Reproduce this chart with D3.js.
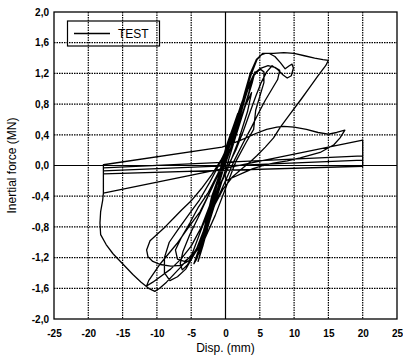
<!DOCTYPE html>
<html>
<head>
<meta charset="utf-8">
<script src="https://cdn.jsdelivr.net/npm/d3@7"></script>
<style>
  html, body { margin: 0; padding: 0; background: #fff; }
  svg { display: block; }
  text { font-family: "Liberation Sans", Arial, sans-serif; fill: #000; }
</style>
</head>
<body>
<svg id="chart" width="403" height="355"></svg>
<script>
// ---- tick values and labels ----
const xTicks = [-25, -20, -15, -10, -5, 0, 5, 10, 15, 20, 25];
const xTickLabels = ["-25", "-20", "-15", "-10", "-5", "0", "5", "10", "15", "20", "25"];
const yTicks = [-2.0, -1.6, -1.2, -0.8, -0.4, 0.0, 0.4, 0.8, 1.2, 1.6, 2.0];
const yTickLabels = ["-2,0", "-1,6", "-1,2", "-0,8", "-0,4", "0,0", "0,4", "0,8", "1,2", "1,6", "2,0"];

// ---- series: TEST (displacement mm, inertial force MN), in time order ----
const smallCyclesDisp = [-0.7,0.3,1.3,1.8,1.2,0.1,-1.0,-2.0,-2.6,-2.0,-0.8,0.5,1.8,2.6,3.0,2.2,0.8,-0.6,-2.0,-3.0,-3.6,-3.1,-1.9,-0.5,1.0,2.4,3.3,3.7,3.0,1.6,0,-1.5,-3.0,-4.0,-4.6,-4.2,-3.2,-1.8,-0.6];
const smallCyclesForce = [0,0.3,0.55,0.68,0.45,0.12,-0.15,-0.45,-0.65,-0.5,-0.12,0.28,0.62,0.82,0.92,0.66,0.3,-0.05,-0.4,-0.78,-0.98,-0.86,-0.48,0.02,0.42,0.78,1.0,1.05,0.82,0.45,0.03,-0.32,-0.8,-1.12,-1.28,-1.22,-0.95,-0.45,0];

const bandCyclesDisp = [-0.4,0.8,2.0,3.0,3.9,3.4,2.3,1.0,-0.3,-1.5,-2.6,-3.5,-4.1,-3.6,-2.6,-1.4,-0.2,1.2,2.4,3.3,4.3,3.9,2.8,1.5,0.2,-1.2,-2.4,-3.3,-4.0,-3.4,-2.2,-0.9,0.5];
const bandCyclesForce = [0.08,0.4,0.7,0.95,1.12,0.95,0.62,0.28,-0.05,-0.4,-0.75,-1.02,-1.18,-1.1,-0.8,-0.42,0.02,0.42,0.75,1.0,1.22,1.08,0.75,0.38,0.0,-0.4,-0.75,-1.05,-1.25,-1.05,-0.65,-0.22,0.2];

const cycleADisp = [0.6,2.0,3.0,3.8,4.6,5.4,6.4,7.2,8.0,8.7,9.3,9.7,9.9,9.6,9.0,8.4,7.6,6.8,6.0,5.2,4.4,3.6,2.6,1.5,0.4,-0.8,-2.0,-3.2,-4.2,-5.3,-6.5,-8.0,-9.5,-10.6,-11.3,-11.5,-11.0,-10.0,-8.8,-7.5,-6.4,-5.0,-3.5,-2.0,-0.6];
const cycleAForce = [0.35,0.72,0.98,1.2,1.38,1.46,1.46,1.42,1.34,1.26,1.3,1.32,1.27,1.17,1.14,1.18,1.25,1.3,1.22,1.08,0.9,0.7,0.45,0.2,0.0,-0.25,-0.55,-0.85,-1.08,-1.24,-1.3,-1.31,-1.29,-1.25,-1.19,-1.1,-0.98,-0.9,-0.8,-0.68,-0.58,-0.46,-0.3,-0.12,0.08];

const cycleDDisp = [1.0,2.4,3.4,4.2,5.0,5.6,5.6,5.0,4.4,4.1,3.0,1.5,0,-1.5,-3.0,-4.5,-6.0,-7.0,-7.3,-6.5,-5.2,-4.0,-2.5,-1.2,0];
const cycleDForce = [0.35,0.8,1.05,1.2,1.26,1.22,1.08,0.9,0.72,0.47,0.3,0.05,-0.3,-0.65,-0.95,-1.15,-1.25,-1.22,-1.1,-0.95,-0.75,-0.55,-0.35,-0.12,0.1];

const cycleBDisp = [0.8,2.2,3.2,4.2,5.2,6.2,7.2,7.9,7.6,6.8,5.8,4.8,3.8,2.6,1.2,0,-1.5,-3.0,-4.5,-5.8,-7.0,-8.1,-8.9,-8.9,-8.2,-6.8,-5.2,-3.8,-2.3,-1.0];
const cycleBForce = [0.35,0.78,1.02,1.18,1.27,1.3,1.28,1.24,1.12,1.0,0.85,0.68,0.5,0.3,0.05,-0.2,-0.5,-0.85,-1.15,-1.35,-1.45,-1.5,-1.4,-1.2,-1.0,-0.82,-0.62,-0.45,-0.22,0];

const cycleCDisp = [0.3,1.6,2.8,3.6,4.5,5.2,5.8,7.0,8.5,10.0,11.5,13.0,14.2,15.0,14.6,13.5,12.3,11.0,9.4,8.0,7.0,5.8,4.6,3.5,2.3,1.0,-0.3,-1.5,-2.6,-3.6,-4.6,-5.6,-6.3,-6.6,-6.2,-5.2,-4.0,-2.8,-1.6,-0.5];
const cycleCForce = [0.25,0.55,0.95,1.2,1.38,1.44,1.46,1.46,1.47,1.46,1.43,1.4,1.38,1.37,1.3,1.17,1.02,0.86,0.67,0.5,0.36,0.24,0.13,0.04,-0.05,-0.15,-0.3,-0.5,-0.75,-0.98,-1.16,-1.3,-1.36,-1.28,-1.12,-0.9,-0.68,-0.45,-0.22,-0.02];

const lowerLoopDisp = [-2.0,-3.5,-5.0,-6.5,-8.0,-9.5,-10.6,-11.5,-11.2,-9.5,-7.1,-5.5,-3.7,-2.0,-0.5,1.5,3.0,3.8,3.2,1.8,0.3,-1.0,-2.2,-3.4,-4.9,-6.6,-8.6,-9.6,-10.3,-11.2,-12.3,-13.5,-15.0,-16.4,-17.4,-18.2,-18.3,-18.2,-17.9,-17.8];
const lowerLoopForce = [-0.45,-0.8,-1.05,-1.22,-1.35,-1.45,-1.52,-1.57,-1.5,-1.28,-1.02,-0.82,-0.6,-0.3,0.0,0.45,0.8,0.95,0.7,0.3,-0.05,-0.3,-0.55,-0.8,-1.16,-1.33,-1.52,-1.6,-1.64,-1.6,-1.52,-1.42,-1.28,-1.15,-1.03,-0.9,-0.75,-0.6,-0.45,-0.36];

const driftDisp = [-17.8,20,20,-17.8,-17.8,20,20,-17.8,-17.8,-0.5,2.0,4.5,6.0,7.5,8.5,10.0,11.8,13.5,15.0,16.2,17.4,16.7,15.8,13.8,10.9,9.0,7.0,5.5,4.0,2.5,1.0,0.0];
const driftForce = [-0.11,-0.01,0.125,-0.03,-0.07,0.07,0.33,-0.36,0.01,0.24,0.32,0.42,0.47,0.5,0.51,0.5,0.47,0.43,0.41,0.43,0.46,0.36,0.27,0.17,0.1,0.06,0.03,0.0,-0.04,-0.1,-0.16,-0.2];

const seriesName = "TEST";

// ---- assemble ----
const dispAll = [].concat(smallCyclesDisp, bandCyclesDisp, cycleADisp, cycleDDisp, cycleBDisp, cycleCDisp, lowerLoopDisp, driftDisp);
const forceAll = [].concat(smallCyclesForce, bandCyclesForce, cycleAForce, cycleDForce, cycleBForce, cycleCForce, lowerLoopForce, driftForce);
const points = dispAll.map((d, i) => ({ x: d, y: forceAll[i] }));

// ---- layout ----
const svg = d3.select("#chart");
const L = 54, R = 397, T = 12, B = 319;
const x = d3.scaleLinear().domain([-25, 25]).range([L, R]);
const y = d3.scaleLinear().domain([-2, 2]).range([B, T]);

// grid
const grid = svg.append("g");
grid.selectAll("line.gx").data(xTicks.filter(v => v > -25 && v < 25)).enter().append("line")
  .attr("x1", d => x(d)).attr("x2", d => x(d)).attr("y1", T).attr("y2", B)
  .attr("stroke", "#000")
  .attr("stroke-width", 1.2)
  .attr("stroke-dasharray", d => d === 0 ? null : "1.5,1");
grid.selectAll("line.gy").data(yTicks.filter(v => v > -2 && v < 2)).enter().append("line")
  .attr("y1", d => y(d)).attr("y2", d => y(d)).attr("x1", L).attr("x2", R)
  .attr("stroke", "#000")
  .attr("stroke-width", 1.2)
  .attr("stroke-dasharray", d => d === 0 ? null : "1.5,1");

// data line
const line = d3.line().x(d => x(d.x)).y(d => y(d.y));
svg.append("path").datum(points)
  .attr("d", line)
  .attr("fill", "none")
  .attr("stroke", "#000")
  .attr("stroke-width", 1.3)
  .attr("stroke-linejoin", "round")
  .attr("stroke-linecap", "round");

// frame
svg.append("rect").attr("x", L).attr("y", T).attr("width", R - L).attr("height", B - T)
  .attr("fill", "none").attr("stroke", "#000").attr("stroke-width", 1.3);

// axes labels
const xAxis = d3.axisBottom(x).tickValues(xTicks).tickFormat((d, i) => xTickLabels[i]).tickSize(0).tickPadding(11);
const gx = svg.append("g").attr("transform", `translate(0,${B})`).call(xAxis);
gx.select(".domain").remove();
gx.selectAll("text").attr("font-size", 10).attr("font-weight", "bold").attr("font-family", "Liberation Sans, Arial, sans-serif");

const yAxis = d3.axisLeft(y).tickValues(yTicks).tickFormat((d, i) => yTickLabels[i]).tickSize(0).tickPadding(5);
const gy = svg.append("g").attr("transform", `translate(${L},0)`).call(yAxis);
gy.select(".domain").remove();
gy.selectAll("text").attr("font-size", 10).attr("font-weight", "bold").attr("font-family", "Liberation Sans, Arial, sans-serif");

// axis titles
svg.append("text").attr("x", (L + R) / 2).attr("y", 352).attr("text-anchor", "middle")
  .attr("font-size", 12).text("Disp. (mm)");
svg.append("text").attr("transform", `translate(16,${(T + B) / 2}) rotate(-90)`)
  .attr("text-anchor", "middle").attr("font-size", 12).text("Inertial force (MN)");

// legend
const lg = svg.append("g");
lg.append("rect").attr("x", 67.5).attr("y", 21).attr("width", 92).attr("height", 25)
  .attr("fill", "none").attr("stroke", "#000").attr("stroke-width", 1.2);
lg.append("line").attr("x1", 74).attr("x2", 110).attr("y1", 33.5).attr("y2", 33.5)
  .attr("stroke", "#000").attr("stroke-width", 1.3);
lg.append("text").attr("x", 118).attr("y", 38).attr("font-size", 12).text(seriesName);
</script>
</body>
</html>
